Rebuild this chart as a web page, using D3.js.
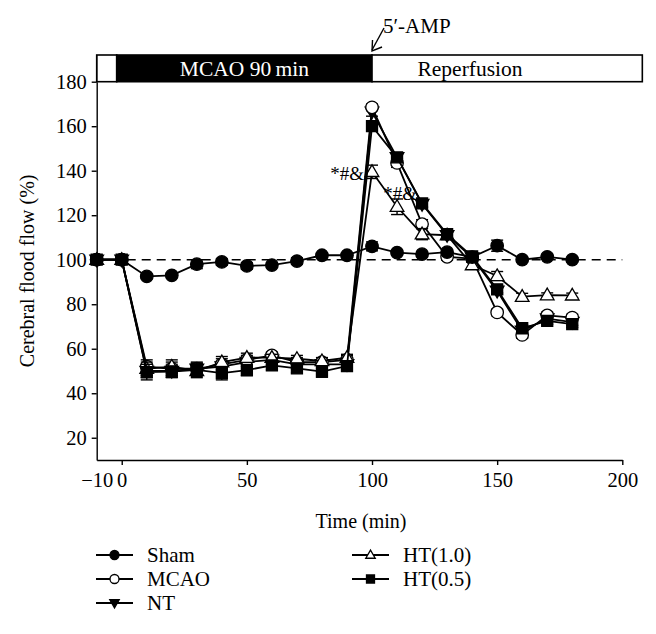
<!DOCTYPE html>
<html>
<head>
<meta charset="utf-8">
<script src="https://cdn.jsdelivr.net/npm/d3@7"></script>
<style>
  html, body { margin: 0; padding: 0; background: #fff; }
  svg { display: block; }
  text { font-family: "Liberation Serif", "DejaVu Serif", serif; fill: #000; }
</style>
</head>
<body>
<svg id="chart" width="656" height="634"></svg>
<script>
// ---------------- data ----------------
const times = [-10, 0, 10, 20, 30, 40, 50, 60, 70, 80, 90, 100, 110, 120, 130, 140, 150, 160, 170, 180];

const sham    = [100, 100, 92.5, 93, 98, 99, 97.2, 97.6, 99.4, 102, 102, 106, 103.2, 102.5, 103.4, 101.2, 106.3, 100, 101.3, 100];
const shamErr = [0, 0, 1, 1, 2, 1.5, 1.5, 1, 1.5, 1, 1, 2, 1, 1, 1, 1, 2.5, 1, 1, 1];

const mcao    = [100, 100, 52, 51, 51, 53, 55, 57, 54, 54, 55, 168.5, 143.5, 116, 101.3, 100.5, 76.3, 66.2, 75, 74];
const mcaoErr = [0, 0, 3, 3, 2.5, 2.5, 2, 1.5, 2, 2, 2, 1.5, 2, 2, 1.5, 1.5, 1.5, 1.5, 1.5, 1.5];

const nt      = [100, 100, 50, 50, 51, 52, 54, 55, 53, 53, 53, 166.5, 146, 125, 111, 101, 86, 68, 73.5, 72];
const ntErr   = [0, 0, 3, 3, 3, 2.5, 2, 2, 2, 2, 2, 2, 1.5, 1.5, 1.5, 1.5, 1.5, 1.5, 1.5, 1.5];

const ht10    = [100, 100, 51, 52, 50, 54, 56, 56, 55.5, 54.5, 56, 139.5, 123.8, 111.5, 111, 97.6, 92.7, 83.4, 84.1, 84];
const ht10Err = [0, 0, 3, 3, 3, 2.5, 2, 1.5, 1.5, 1.5, 1.5, 3, 3.5, 2.5, 1.5, 1.5, 2, 1.5, 1, 1];

const ht05    = [100, 100, 49.5, 49.7, 50.5, 49, 50.4, 52.5, 51.2, 49.7, 52.2, 160, 146, 125.3, 111.5, 101.5, 86.7, 69.2, 72.5, 71.1];
const ht05Err = [0, 0, 3.5, 2.5, 3, 3, 2.5, 2, 2, 2.5, 2, 2, 1.5, 1.5, 1.5, 1.5, 1.5, 1.5, 1.5, 1.5];

const seriesNames = ["Sham", "MCAO", "NT", "HT(1.0)", "HT(0.5)"];

const xTicks = [-10, 0, 50, 100, 150, 200];
const yTicks = [20, 40, 60, 80, 100, 120, 140, 160, 180];

const phaseLabels = ["", "MCAO 90\u2009min", "Reperfusion"];
const phaseStart  = [-10, -2, 100];
const phaseEnd    = [-2, 100, 208];

const baselineValue = 100;
const annotTexts = ["*#&", "*#&"];
const annotTimes = [100, 110];
const annotValues = [139, 130];

// ---------------- layout ----------------
const svg = d3.select("#chart");
const x = d3.scaleLinear().domain([-10, 200]).range([96.7, 622.3]);
const y = d3.scaleLinear().domain([10, 180]).range([460, 81.7]);

const barTop = 55, barBottom = 81.7;
const FONT = "Liberation Serif, serif";

const series = [
  { name: "NT",      vals: nt,   err: ntErr,   shape: "triDown", fill: "#000" },
  { name: "MCAO",    vals: mcao, err: mcaoErr, shape: "circle",  fill: "#fff" },
  { name: "HT(1.0)", vals: ht10, err: ht10Err, shape: "triUp",   fill: "#fff" },
  { name: "HT(0.5)", vals: ht05, err: ht05Err, shape: "square",  fill: "#000" },
  { name: "Sham",    vals: sham, err: shamErr, shape: "circle",  fill: "#000" }
];

function markerPath(shape, s) {
  if (shape === "circle") {
    return d3.symbol().type(d3.symbolCircle).size(Math.PI * (s / 2) * (s / 2))();
  }
  if (shape === "square") {
    return d3.symbol().type(d3.symbolSquare).size(s * s)();
  }
  const h = s * 0.9, w = s * 1.05;
  if (shape === "triUp") {
    return `M0,${-h * 0.6}L${w / 2},${h * 0.4}L${-w / 2},${h * 0.4}Z`;
  }
  return `M0,${h * 0.6}L${w / 2},${-h * 0.4}L${-w / 2},${-h * 0.4}Z`;
}

// ---------------- top phase bar ----------------
const bar = svg.append("g");
phaseLabels.forEach((lab, i) => {
  const dark = i === 1;
  bar.append("rect")
    .attr("x", x(phaseStart[i]))
    .attr("y", barTop)
    .attr("width", x(phaseEnd[i]) - x(phaseStart[i]))
    .attr("height", barBottom - barTop)
    .attr("fill", dark ? "#000" : "#fff")
    .attr("stroke", "#000")
    .attr("stroke-width", 1.6);
  if (lab) {
    bar.append("text")
      .attr("x", i === 1 ? (x(phaseStart[i]) + x(phaseEnd[i])) / 2 : 470)
      .attr("y", 75.5)
      .attr("text-anchor", "middle")
      .style("font-size", "21.5px")
      .style("fill", dark ? "#fff" : "#000")
      .text(lab);
  }
});

// 5'-AMP arrow
svg.append("text")
  .attr("x", 383).attr("y", 33)
  .style("font-size", "21px")
  .text("5\u2032-AMP");
svg.append("line")
  .attr("x1", 384).attr("y1", 28).attr("x2", x(100)).attr("y2", 50)
  .attr("stroke", "#000").attr("stroke-width", 1.4);
svg.append("path")
  .attr("d", `M${x(100) + 0.5},${40}L${x(100)},${51}L${x(100) + 10},${47}`)
  .attr("fill", "none").attr("stroke", "#000").attr("stroke-width", 1.4);

// ---------------- axes ----------------
const yAxis = d3.axisLeft(y).tickValues(yTicks).tickSize(5).tickSizeOuter(0).tickPadding(5);
const gy = svg.append("g").attr("transform", `translate(${x(-10)},0)`).call(yAxis);
gy.selectAll("text").style("font-size", "20.5px").style("font-family", FONT);
gy.selectAll("line,path").attr("stroke", "#000").attr("stroke-width", 1.4);
svg.append("line")
  .attr("x1", x(-10)).attr("x2", x(-10))
  .attr("y1", y(180)).attr("y2", barTop)
  .attr("stroke", "#000").attr("stroke-width", 1.4);

const xAxis = d3.axisBottom(x).tickValues(xTicks).tickSize(5).tickSizeOuter(0).tickPadding(7)
  .tickFormat(d => d < 0 ? "\u2212" + Math.abs(d) : d);
const gx = svg.append("g").attr("transform", `translate(0,${y(10)})`).call(xAxis);
gx.selectAll("text").style("font-size", "20.5px").style("font-family", FONT);
gx.selectAll("line,path").attr("stroke", "#000").attr("stroke-width", 1.4);
gx.selectAll(".tick").filter(d => d === -10).select("line").remove();

// axis titles
svg.append("text")
  .attr("x", 361).attr("y", 528)
  .attr("text-anchor", "middle")
  .style("font-size", "20px")
  .text("Time (min)");
svg.append("text")
  .attr("transform", `translate(34,${y(95)}) rotate(-90)`)
  .attr("text-anchor", "middle")
  .style("font-size", "20px")
  .text("Cerebral flood flow (%)");

// baseline dashed line
svg.append("line")
  .attr("x1", x(-10)).attr("x2", x(200))
  .attr("y1", y(baselineValue)).attr("y2", y(baselineValue))
  .attr("stroke", "#000").attr("stroke-width", 1.4)
  .attr("stroke-dasharray", "9,6");

// ---------------- series ----------------
const line = d3.line().x((d, i) => x(times[i])).y(d => y(d));

series.forEach(s => {
  const g = svg.append("g");
  g.append("path")
    .attr("d", line(s.vals))
    .attr("fill", "none").attr("stroke", "#000").attr("stroke-width", 1.8);
  s.vals.forEach((v, i) => {
    const e = s.err[i];
    if (!e) return;
    const cx = x(times[i]);
    g.append("line").attr("x1", cx).attr("x2", cx).attr("y1", y(v - e)).attr("y2", y(v + e))
      .attr("stroke", "#000").attr("stroke-width", 1.4);
    [v - e, v + e].forEach(w => {
      g.append("line").attr("x1", cx - 6).attr("x2", cx + 6).attr("y1", y(w)).attr("y2", y(w))
        .attr("stroke", "#000").attr("stroke-width", 1.4);
    });
  });
  g.selectAll(".m").data(s.vals).enter().append("path")
    .attr("transform", (d, i) => `translate(${x(times[i])},${y(d)})`)
    .attr("d", markerPath(s.shape, s.shape === "square" ? 11 : s.shape === "circle" ? 12.5 : 13))
    .attr("fill", s.fill).attr("stroke", "#000").attr("stroke-width", 1.3);
});

// annotations
annotTexts.forEach((t, i) => {
  svg.append("text")
    .attr("x", i === 0 ? x(annotTimes[i]) - 8 : x(annotTimes[i]) + 3)
    .attr("y", y(annotValues[i]) + 7)
    .attr("text-anchor", i === 0 ? "end" : "middle")
    .style("font-size", "19px")
    .text(t);
});

// ---------------- legend ----------------
const legendItems = [
  { name: seriesNames[0], shape: "circle",  fill: "#000", col: 0, row: 0 },
  { name: seriesNames[1], shape: "circle",  fill: "#fff", col: 0, row: 1 },
  { name: seriesNames[2], shape: "triDown", fill: "#000", col: 0, row: 2 },
  { name: seriesNames[3], shape: "triUp",   fill: "#fff", col: 1, row: 0 },
  { name: seriesNames[4], shape: "square",  fill: "#000", col: 1, row: 1 }
];
const legX = [96, 352], legY0 = 555, legDy = 24;
legendItems.forEach(it => {
  const gx0 = legX[it.col], gy0 = legY0 + it.row * legDy;
  const g = svg.append("g").attr("transform", `translate(${gx0},${gy0})`);
  g.append("line").attr("x1", 0).attr("x2", 37).attr("y1", 0).attr("y2", 0)
    .attr("stroke", "#000").attr("stroke-width", 1.8);
  g.append("path").attr("transform", "translate(18.5,0)")
    .attr("d", markerPath(it.shape, it.shape === "square" ? 8 : 9))
    .attr("fill", it.fill).attr("stroke", "#000").attr("stroke-width", 1.3);
  g.append("text").attr("x", 51).attr("y", 7)
    .style("font-size", "21px")
    .text(it.name);
});
</script>
</body>
</html>
